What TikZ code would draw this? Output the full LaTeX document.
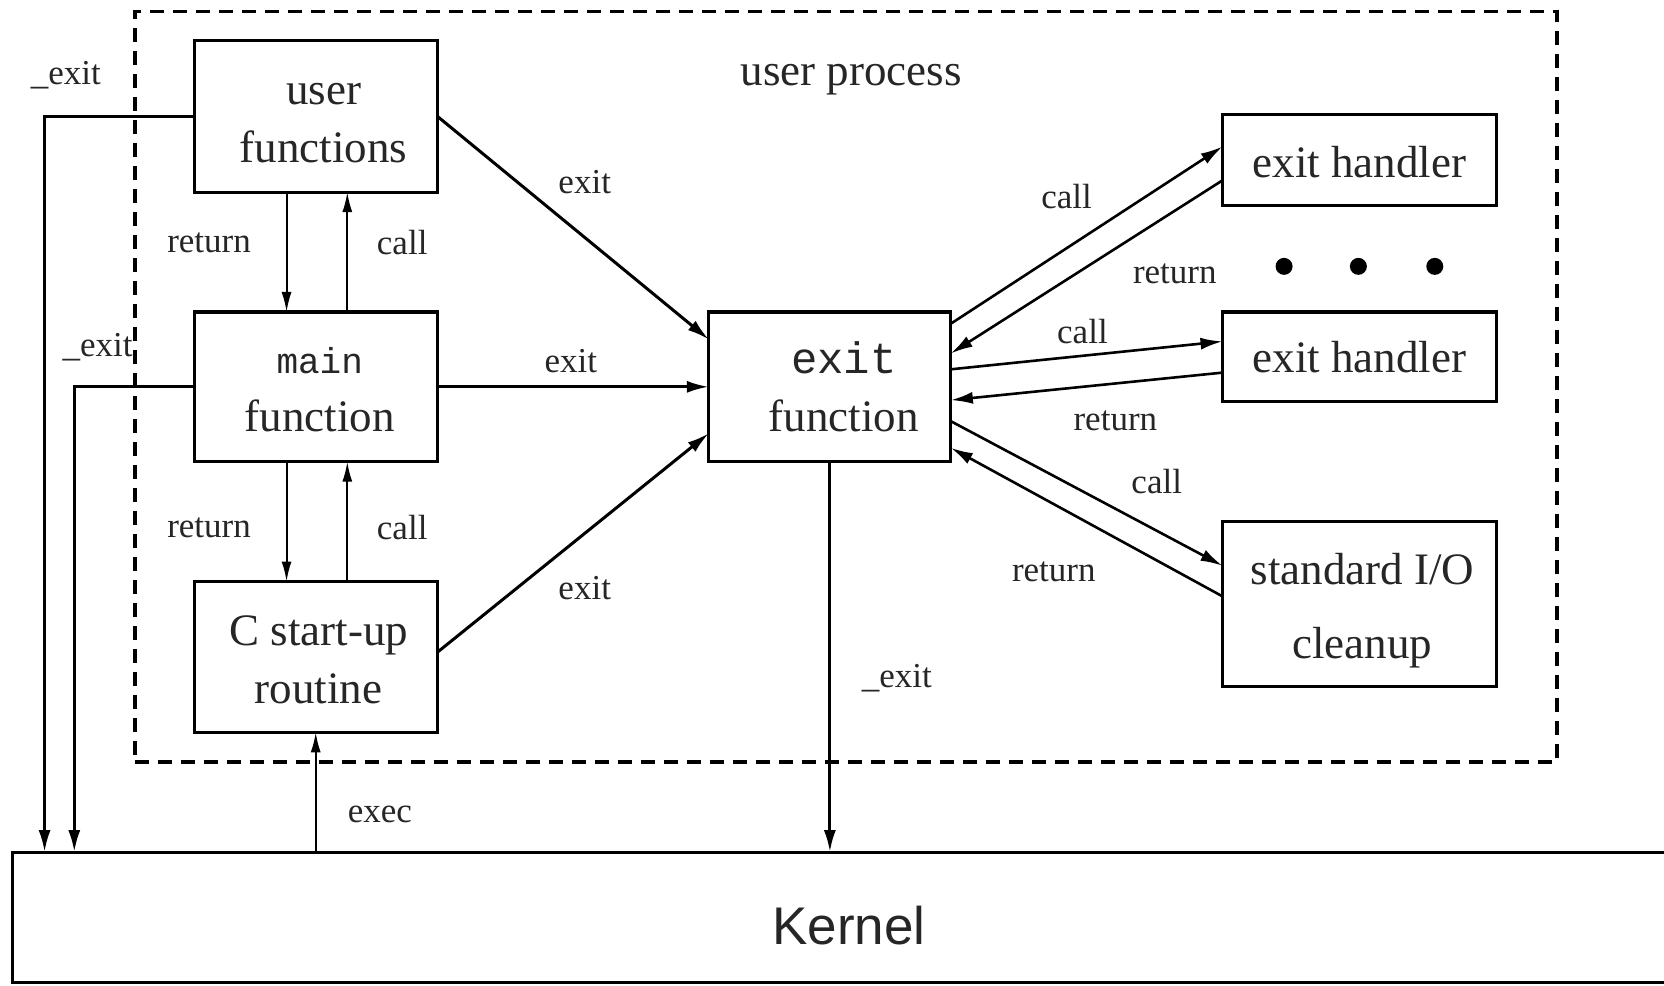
\documentclass[tikz,border=0pt]{standalone}
\usepackage{fontspec}
\setmainfont{Liberation Serif}
\newfontfamily\monof{Liberation Mono}
\newfontfamily\sansf{Liberation Sans}
\usetikzlibrary{arrows.meta,calc,fit}
\tikzset{
  box/.style={draw, line width=3pt, inner sep=0pt, outer sep=0pt},
  boxtxt/.style={inner sep=0pt, align=center, font=\fontsize{45}{58}\selectfont, text=black!85},
  lbl/.style={inner sep=0pt, font=\fontsize{35}{40}\selectfont, text=black!85},
  biglbl/.style={inner sep=0pt, font=\fontsize{45}{50}\selectfont, text=black!85},
  fatarr/.style={line width=3pt, -{Latex[length=22pt,width=12pt]}},
  midarr/.style={line width=2.6pt, -{Latex[length=22pt,width=12pt]}},
  slimarr/.style={line width=2pt, -{Latex[length=20pt,width=10pt]}},
  dashbox/.style={draw, line width=3.5pt, dash pattern=on 14pt off 9pt, inner sep=0pt, outer sep=0pt},
  dotmark/.style={circle, fill=black, inner sep=0pt, minimum size=17pt}
}
\begin{document}
\begin{tikzpicture}[x=1.0612pt,y=-1.0612pt]
\useasboundingbox (0,0) rectangle (1568,929);
\fill[white] (0,0) rectangle (1568,929);

% user process frame
\node[dashbox, fit={(127,11)(1467,718)}] (up) {};
\node[biglbl] (uplbl) at (802,75) {user process};

% boxes
\node[box, fit={(183,38)(412,181)},
      label={[boxtxt, xshift=8pt, yshift=-7pt]center:user\\functions}] (uf) {};
\node[box, fit={(183,294)(412,435)},
      label={[boxtxt, xshift=4pt, yshift=-3pt]center:{\monof\fontsize{36}{58}\selectfont main}\\function}] (main) {};
\node[box, fit={(183,548)(412,690)},
      label={[boxtxt, xshift=3pt, yshift=-3pt]center:C start-up\\routine}] (cs) {};
\node[box, fit={(668,294)(896,435)},
      label={[boxtxt, xshift=14pt, yshift=0pt]center:{\monof\fontsize{44}{58}\selectfont exit}\\function}] (ef) {};
\node[box, fit={(1152,108)(1410,194)},
      label={[boxtxt, yshift=-2pt]center:exit handler}] (eh1) {};
\node[box, fit={(1152,294)(1410,378)},
      label={[boxtxt, yshift=-1pt]center:exit handler}] (eh2) {};
\node[box, fit={(1152,491)(1410,647)},
      label={[boxtxt, font=\fontsize{45}{74}\selectfont, xshift=3pt, yshift=-7pt]center:standard I/O\\cleanup}] (sio) {};
\node[box, fit={(12,803)(1590,926)}] (kernel) {};
\node[inner sep=0pt, font=\sansf\fontsize{53}{60}\selectfont, text=black!85] (ktext) at (800,872) {Kernel};

% dots
\node[dotmark] (d1) at (1210,251) {};
\node[dotmark] (d2) at (1280,251) {};
\node[dotmark] (d3) at (1352,251) {};

% _exit paths to kernel
\draw[fatarr] (uf.west) -| ($(kernel.north west)+(30,0)$);
\draw[fatarr] (main.west) -| ($(kernel.north west)+(58,0)$);

% call / return between left boxes
\coordinate (ufa) at ($(uf.south west)!0.38!(uf.south east)$);
\coordinate (ufb) at ($(uf.south west)!0.63!(uf.south east)$);
\coordinate (ma) at ($(main.south west)!0.38!(main.south east)$);
\coordinate (mb) at ($(main.south west)!0.63!(main.south east)$);
\draw[slimarr] (ufa) -- (ufa |- main.north);
\draw[slimarr] (ufb |- main.north) -- (ufb);
\draw[slimarr] (ma) -- (ma |- cs.north);
\draw[slimarr] (mb |- cs.north) -- (mb);

% exec
\draw[slimarr] (cs.south |- kernel.north) -- (cs.south);

% exit calls
\draw[fatarr] (uf.east) -- ($(ef.north west)!0.184!(ef.south west)$);
\draw[fatarr] (main.east) -- (ef.west);
\draw[fatarr] ($(cs.north east)!0.47!(cs.south east)$) -- ($(ef.north west)!0.81!(ef.south west)$);
\draw[fatarr] (ef.south) -- (ef.south |- kernel.north);

% handlers
\draw[midarr] ($(ef.north east)!0.078!(ef.south east)$) -- ($(eh1.north west)!0.35!(eh1.south west)$);
\draw[midarr] ($(eh1.north west)!0.72!(eh1.south west)$) -- ($(ef.north east)!0.277!(ef.south east)$);
\draw[midarr] ($(ef.north east)!0.383!(ef.south east)$) -- ($(eh2.north west)!0.33!(eh2.south west)$);
\draw[midarr] ($(eh2.north west)!0.68!(eh2.south west)$) -- ($(ef.north east)!0.589!(ef.south east)$);
\draw[midarr] ($(ef.north east)!0.73!(ef.south east)$) -- ($(sio.north west)!0.27!(sio.south west)$);
\draw[midarr] ($(sio.north west)!0.455!(sio.south west)$) -- ($(ef.north east)!0.908!(ef.south east)$);

% labels
\node[lbl] (l1) at (62,71) {\_exit};
\node[lbl] (l2) at (92,327) {\_exit};
\node[lbl] (l3) at (197,229) {return};
\node[lbl] (l4) at (379,229) {call};
\node[lbl] (l5) at (197,497) {return};
\node[lbl] (l6) at (379,497) {call};
\node[lbl] (l7) at (358,767) {exec};
\node[lbl] (l8) at (551,172) {exit};
\node[lbl] (l9) at (538,340) {exit};
\node[lbl] (l10) at (551,554) {exit};
\node[lbl] (l11) at (845,639) {\_exit};
\node[lbl] (l12) at (1005,185) {call};
\node[lbl] (l13) at (1107,258) {return};
\node[lbl] (l14) at (1020,312) {call};
\node[lbl] (l15) at (1051,397) {return};
\node[lbl] (l16) at (1090,454) {call};
\node[lbl] (l17) at (993,539) {return};
\end{tikzpicture}
\end{document}
